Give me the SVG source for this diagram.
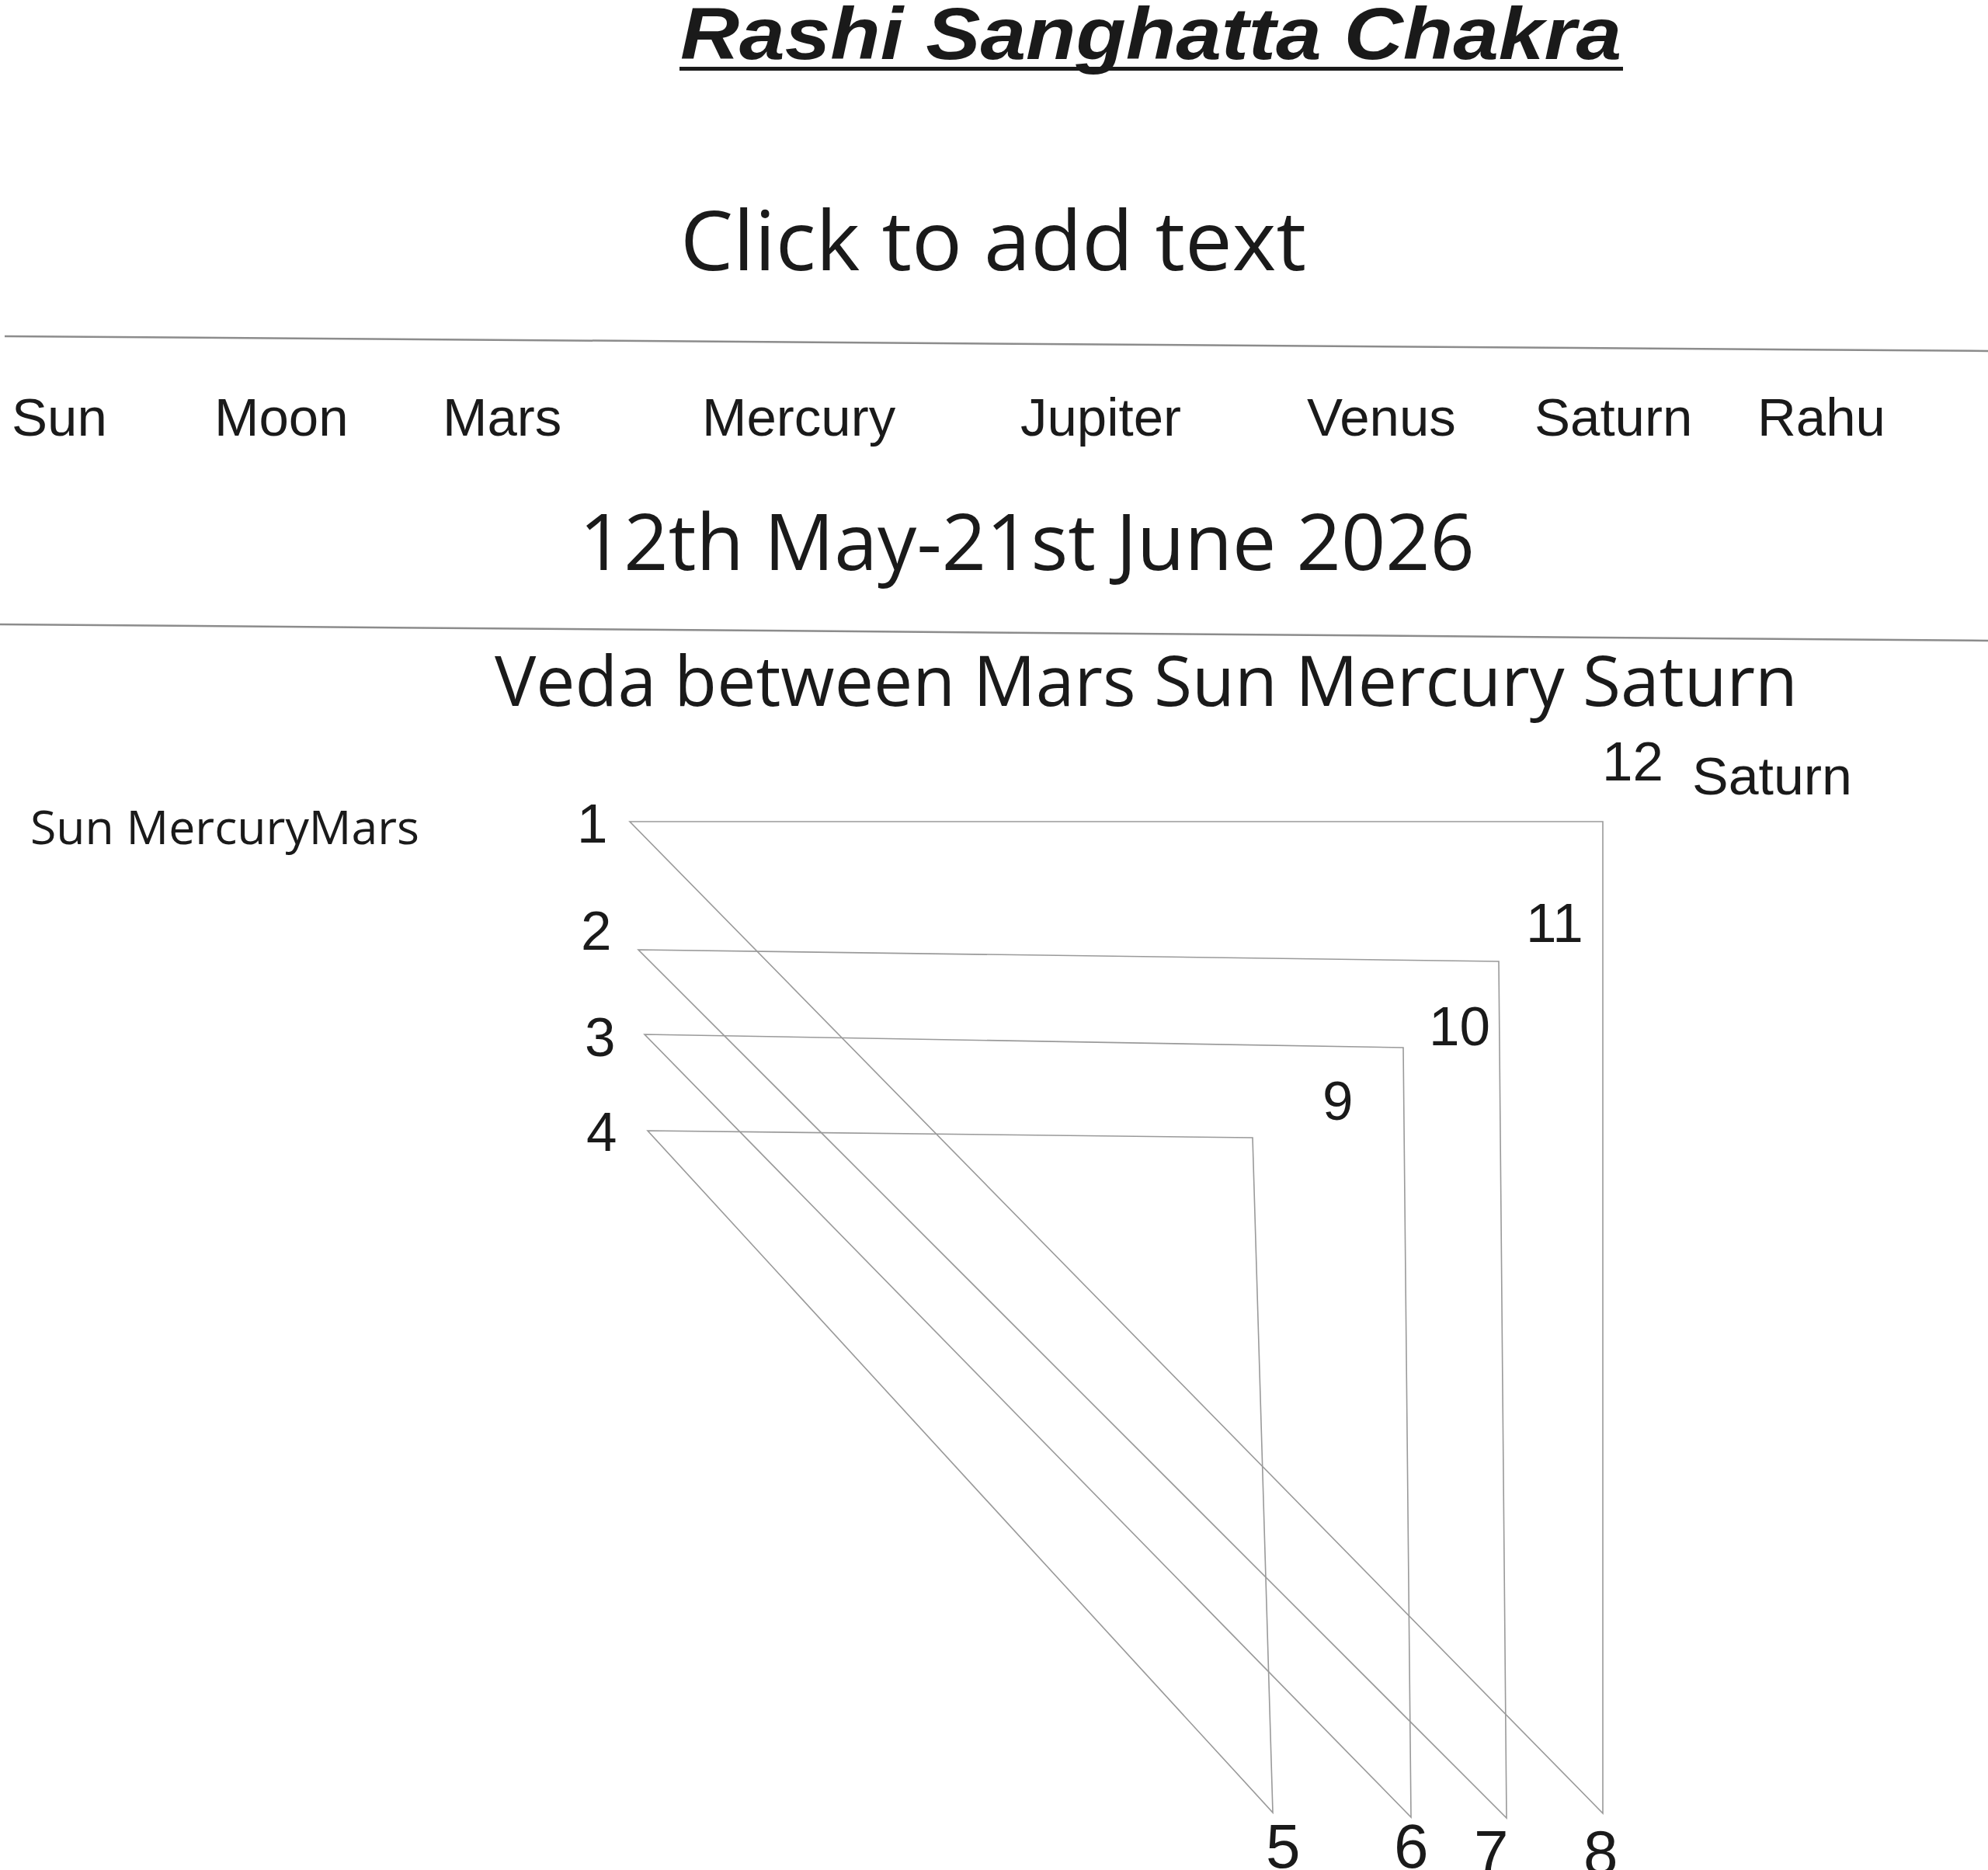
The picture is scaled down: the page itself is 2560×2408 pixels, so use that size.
<svg xmlns="http://www.w3.org/2000/svg" width="2560" height="2408" viewBox="0 0 2560 2408">
<style>
.sep{stroke:#8c8c8c;stroke-width:2.5;fill:none}
.ln{stroke:#9a9a9a;stroke-width:1.6;fill:none}
.ar{font-family:"Liberation Sans",Arial,sans-serif;fill:#1a1a1a}
.os{font-family:"Open Sans","Noto Sans",sans-serif;fill:#1a1a1a}
.num{font-family:"Liberation Sans",Arial,sans-serif;fill:#1a1a1a;font-size:71px}
.numb{font-family:"Liberation Sans",Arial,sans-serif;fill:#1a1a1a;font-size:80px}
</style>
<rect width="2560" height="2408" fill="#ffffff"/>
<g id="title">
<text class="ar" x="876" y="76" font-size="95" font-weight="bold" font-style="italic" textLength="1212" lengthAdjust="spacingAndGlyphs">Rashi Sanghatta Chakra</text>
<rect x="875" y="86" width="1215" height="5" fill="#1a1a1a"/>
</g>
<g id="subtitle">
<text class="os" x="876" y="348" font-size="107" textLength="806" lengthAdjust="spacingAndGlyphs">Click to add text</text>
</g>
<g id="separators">
<line class="sep" x1="6" y1="433" x2="2560" y2="452"/>
<line class="sep" x1="0" y1="804" x2="2560" y2="825"/>
</g>
<g id="planets">
<text class="ar" x="15" y="561" font-size="69">Sun</text>
<text class="ar" x="276" y="561" font-size="69">Moon</text>
<text class="ar" x="570" y="561" font-size="69">Mars</text>
<text class="ar" x="904" y="561" font-size="69">Mercury</text>
<text class="ar" x="1314" y="561" font-size="69">Jupiter</text>
<text class="ar" x="1683" y="561" font-size="69">Venus</text>
<text class="ar" x="1976" y="561" font-size="69">Saturn</text>
<text class="ar" x="2263" y="561" font-size="69">Rahu</text>
</g>
<g id="date">
<text class="os" x="746" y="734" font-size="100" textLength="1153" lengthAdjust="spacingAndGlyphs">12th May-21st June 2026</text>
</g>
<g id="veda">
<text class="os" x="637" y="909" font-size="90" textLength="1678" lengthAdjust="spacingAndGlyphs">Veda between Mars Sun Mercury Saturn</text>
</g>
<g id="left-label">
<text class="os" x="39" y="1087" font-size="61" textLength="501" lengthAdjust="spacingAndGlyphs">Sun MercuryMars</text>
</g>
<g id="saturn-label">
<text class="ar" x="2179" y="1023" font-size="68" textLength="206" lengthAdjust="spacingAndGlyphs">Saturn</text>
</g>
<g id="connectors">
<polygon class="ln" points="811,1058 2064,1058 2064,2335"/>
<polygon class="ln" points="822,1223 1930,1238 1940,2341"/>
<polygon class="ln" points="830,1332 1807,1349 1817,2340"/>
<polygon class="ln" points="834,1456 1613,1465 1639,2334"/>
</g>
<g id="n1"><text class="num" x="743" y="1085">1</text></g>
<g id="n2"><text class="num" x="748" y="1223">2</text></g>
<g id="n3"><text class="num" x="753" y="1360">3</text></g>
<g id="n4"><text class="num" x="755" y="1482">4</text></g>
<g id="n5"><text class="numb" x="1630" y="2405">5</text></g>
<g id="n6"><text class="numb" x="1795" y="2405">6</text></g>
<g id="n7"><text class="numb" x="1898" y="2413">7</text></g>
<g id="n8"><text class="numb" x="2039" y="2413">8</text></g>
<g id="n9"><text class="num" x="1703" y="1442">9</text></g>
<g id="n10"><text class="num" x="1840" y="1346">10</text></g>
<g id="n11"><text class="num" x="1965" y="1213">11</text></g>
<g id="n12"><text class="num" x="2063" y="1005">12</text></g>
</svg>
